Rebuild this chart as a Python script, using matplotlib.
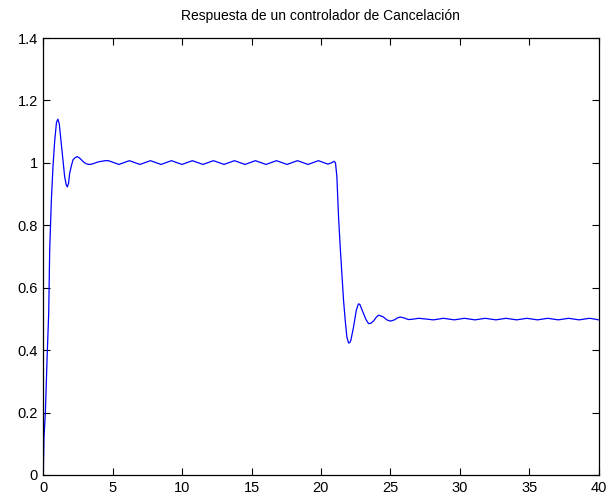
import numpy as np
import matplotlib
matplotlib.use('Agg')
import matplotlib.pyplot as plt
from matplotlib.ticker import FormatStrFormatter

plt.rcParams['font.family'] = ['Liberation Sans', 'DejaVu Sans']

# Tramo 1: subida y primer transitorio
t_sub = [0, 0.05, 0.15, 0.27, 0.39, 0.46, 0.58, 0.70, 0.82, 0.95, 1.05, 1.15,
         1.30, 1.42, 1.54, 1.65, 1.73, 1.82, 1.90, 2.02, 2.14, 2.30, 2.45, 2.60,
         2.74, 2.92, 3.10, 3.30, 3.50, 3.75, 3.95, 4.20, 4.45]
y_sub = [0, 0.12, 0.20, 0.37, 0.52, 0.72, 0.88, 0.99, 1.07, 1.13, 1.14, 1.125,
         1.06, 1.01, 0.955, 0.93, 0.923, 0.935, 0.967, 0.99, 1.01, 1.017, 1.02, 1.016,
         1.01, 1.002, 0.997, 0.995, 0.996, 1.0, 1.003, 1.005, 1.007]

# Tramo 2: rizado alrededor de 1
t_uno = [4.69, 5.07, 5.45, 5.83, 6.20, 6.58, 6.96, 7.34, 7.72, 8.10, 8.48, 8.85,
         9.23, 9.61, 9.99, 10.37, 10.74, 11.12, 11.50, 11.88, 12.26, 12.64, 13.02,
         13.39, 13.77, 14.15, 14.53, 14.91, 15.28, 15.66, 16.04, 16.42, 16.80,
         17.18, 17.56, 17.93, 18.31, 18.69, 19.07, 19.45, 19.82, 20.20, 20.50,
         20.75, 20.95]
y_uno = [1.007, 1.001, 0.995, 1.001, 1.007, 1.001, 0.995, 1.001, 1.007, 1.001,
         0.995, 1.001, 1.007, 1.001, 0.995, 1.001, 1.007, 1.001, 0.995, 1.001,
         1.007, 1.001, 0.995, 1.001, 1.007, 1.001, 0.995, 1.001, 1.007, 1.001,
         0.995, 1.001, 1.007, 1.001, 0.995, 1.001, 1.007, 1.001, 0.995, 1.001,
         1.007, 1.001, 0.996, 1.0, 1.005]

# Tramo 3: bajada y segundo transitorio
t_baj = [21.05, 21.15, 21.27, 21.39, 21.51, 21.63, 21.75, 21.87, 21.99, 22.08,
         22.16, 22.35, 22.55, 22.70, 22.80, 22.95, 23.07, 23.25, 23.43, 23.60,
         23.80, 24.00, 24.15, 24.30, 24.51, 24.75, 25.00, 25.30, 25.50, 25.72,
         26.00, 26.30, 26.60, 27.04, 27.50]
y_baj = [1.0, 0.956, 0.827, 0.731, 0.646, 0.56, 0.496, 0.442, 0.423, 0.424,
         0.432, 0.474, 0.528, 0.548, 0.547, 0.53, 0.517, 0.498, 0.485, 0.486,
         0.494, 0.506, 0.512, 0.51, 0.506, 0.497, 0.493, 0.497, 0.503, 0.506,
         0.503, 0.498, 0.499, 0.502, 0.500]

# Tramo 4: rizado alrededor de 0.5
t_med = [28.10, 28.47, 28.84, 29.22, 29.60, 29.97, 30.34, 30.72, 31.10, 31.47,
         31.84, 32.22, 32.60, 32.97, 33.34, 33.72, 34.10, 34.47, 34.84, 35.22,
         35.60, 35.97, 36.34, 36.72, 37.10, 37.47, 37.84, 38.22, 38.60, 38.97,
         39.34, 39.72, 40.0]
y_med = [0.497, 0.4995, 0.502, 0.4995, 0.497, 0.4995, 0.502, 0.4995, 0.497, 0.4995,
         0.502, 0.4995, 0.497, 0.4995, 0.502, 0.4995, 0.497, 0.4995, 0.502, 0.4995,
         0.497, 0.4995, 0.502, 0.4995, 0.497, 0.4995, 0.502, 0.4995, 0.497, 0.4995,
         0.502, 0.4995, 0.497]

t = t_sub + t_uno + t_baj + t_med
y = y_sub + y_uno + y_baj + y_med

fig = plt.figure(figsize=(6.09, 4.97), dpi=100)
ax = fig.add_axes([0.0711, 0.0443, 0.9117, 0.8792])
ax.plot(t, y, color='#0000ff', linewidth=0.9)

ax.set_xlim(0, 40)
ax.set_ylim(0, 1.4)
ax.set_xticks(np.arange(0, 41, 5))
ax.set_yticks(np.arange(0, 1.41, 0.2))
ax.yaxis.set_major_formatter(FormatStrFormatter('%g'))
ax.tick_params(direction='in', top=True, right=True, length=5, width=0.8,
               labelsize=10.5, pad=4)
for s in ax.spines.values():
    s.set_linewidth(0.9)
ax.set_title('Respuesta de un controlador de Cancelación', fontsize=10, pad=13)

fig.savefig('out.png', dpi=100)
